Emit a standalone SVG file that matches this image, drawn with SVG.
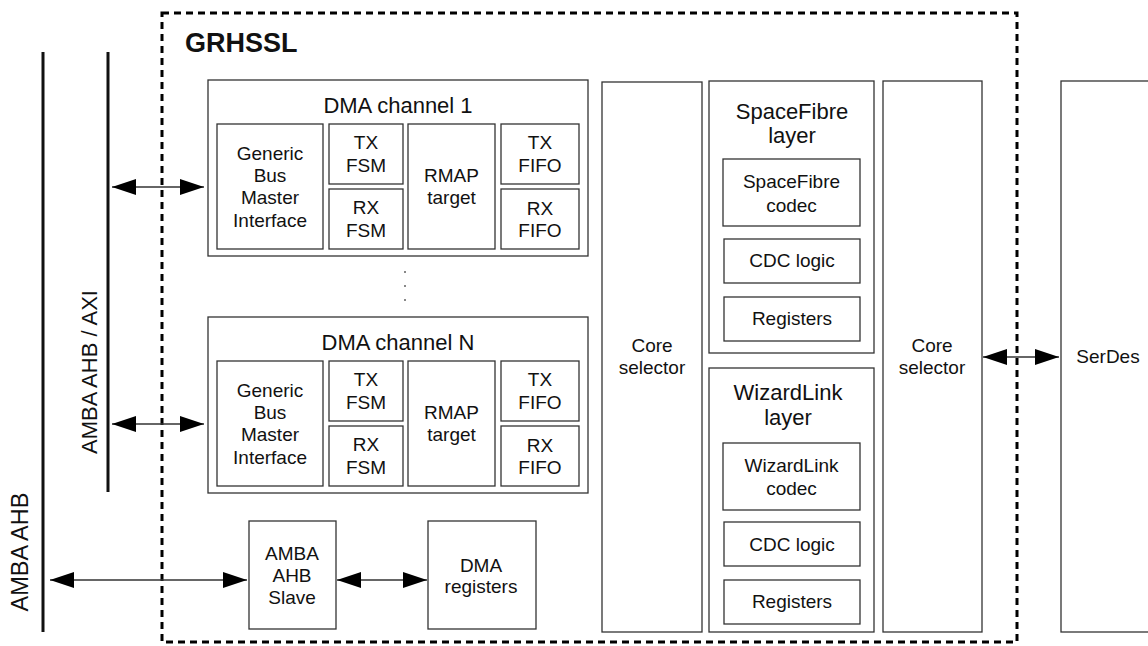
<svg xmlns="http://www.w3.org/2000/svg" width="1148" height="646" viewBox="0 0 1148 646">
<style>
text{font-family:"Liberation Sans",Arial,sans-serif;fill:#111;text-anchor:middle}
.t{font-size:19px}
.h{font-size:22px}
.box{fill:#fff;stroke:#333;stroke-width:1.3}
.bus{stroke:#111;stroke-width:3;fill:none}
.con{stroke:#333;stroke-width:1.4;fill:none;marker-start:url(#ah);marker-end:url(#ah)}
</style>
<defs>
<marker id="ah" viewBox="0 0 24 16" refX="24" refY="8" markerWidth="24" markerHeight="16" markerUnits="userSpaceOnUse" orient="auto-start-reverse">
<path d="M0,0 L24,8 L0,16 z" fill="#000"/>
</marker>
</defs>
<rect width="1148" height="646" fill="#fff"/>

<g id="buses">
<line class="bus" x1="43" y1="52" x2="43" y2="632"/>
<line class="bus" x1="108" y1="52" x2="108" y2="492"/>
<text class="h" style="font-size:23.5px" transform="translate(28,552) rotate(-90)">AMBA AHB</text>
<text class="h" transform="translate(97,372) rotate(-90)">AMBA AHB / AXI</text>
</g>

<g id="grhssl">
<rect x="162" y="13" width="855" height="629" fill="none" stroke="#000" stroke-width="3" stroke-dasharray="7 5"/>
<text x="185" y="52" style="font-size:27px;font-weight:bold;text-anchor:start">GRHSSL</text>
</g>

<g id="dma1">
<rect class="box" x="208" y="80" width="380" height="176"/>
<text class="h" x="398" y="113">DMA channel 1</text>
<rect class="box" x="217" y="124" width="106" height="125"/>
<text class="t" x="270" y="160">Generic</text><text class="t" x="270" y="182">Bus</text><text class="t" x="270" y="204">Master</text><text class="t" x="270" y="227">Interface</text>
<rect class="box" x="329" y="124" width="74" height="60"/>
<text class="t" x="366" y="149">TX</text><text class="t" x="366" y="172">FSM</text>
<rect class="box" x="329" y="189" width="74" height="60"/>
<text class="t" x="366" y="214">RX</text><text class="t" x="366" y="237">FSM</text>
<rect class="box" x="408" y="124" width="87" height="125"/>
<text class="t" x="451.5" y="182">RMAP</text><text class="t" x="451.5" y="204">target</text>
<rect class="box" x="501" y="124" width="78" height="60"/>
<text class="t" x="540" y="149">TX</text><text class="t" x="540" y="172">FIFO</text>
<rect class="box" x="501" y="189" width="78" height="60"/>
<text class="t" x="540" y="215">RX</text><text class="t" x="540" y="237">FIFO</text>
</g>

<g id="dots" fill="#888">
<rect x="404" y="271" width="2" height="2"/>
<rect x="404" y="285" width="2" height="2"/>
<rect x="404" y="299" width="2" height="2"/>
</g>

<g id="dmaN">
<rect class="box" x="208" y="317" width="380" height="176"/>
<text class="h" x="398" y="350">DMA channel N</text>
<rect class="box" x="217" y="361" width="106" height="125"/>
<text class="t" x="270" y="397">Generic</text><text class="t" x="270" y="419">Bus</text><text class="t" x="270" y="441">Master</text><text class="t" x="270" y="464">Interface</text>
<rect class="box" x="329" y="361" width="74" height="60"/>
<text class="t" x="366" y="386">TX</text><text class="t" x="366" y="409">FSM</text>
<rect class="box" x="329" y="426" width="74" height="60"/>
<text class="t" x="366" y="451">RX</text><text class="t" x="366" y="474">FSM</text>
<rect class="box" x="408" y="361" width="87" height="125"/>
<text class="t" x="451.5" y="419">RMAP</text><text class="t" x="451.5" y="441">target</text>
<rect class="box" x="501" y="361" width="78" height="60"/>
<text class="t" x="540" y="386">TX</text><text class="t" x="540" y="409">FIFO</text>
<rect class="box" x="501" y="426" width="78" height="60"/>
<text class="t" x="540" y="452">RX</text><text class="t" x="540" y="474">FIFO</text>
</g>

<g id="ahbslave">
<rect class="box" x="249" y="521" width="87" height="108"/>
<text class="t" x="292" y="560">AMBA</text><text class="t" x="292" y="582">AHB</text><text class="t" x="292" y="604">Slave</text>
</g>

<g id="dmaregs">
<rect class="box" x="428" y="521" width="108" height="108"/>
<text class="t" x="481" y="572">DMA</text><text class="t" x="481" y="593">registers</text>
</g>

<g id="coresel1">
<rect class="box" x="602" y="82" width="100" height="550"/>
<text class="t" x="652" y="352">Core</text><text class="t" x="652" y="374">selector</text>
</g>

<g id="spacefibre">
<rect class="box" x="709" y="81" width="165" height="272"/>
<text class="h" x="792" y="119">SpaceFibre</text><text class="h" x="792" y="143">layer</text>
<rect class="box" x="723" y="159" width="137" height="67"/>
<text class="t" x="791.5" y="188">SpaceFibre</text><text class="t" x="791.5" y="212">codec</text>
<rect class="box" x="724" y="239" width="136" height="44"/>
<text class="t" x="792" y="267">CDC logic</text>
<rect class="box" x="724" y="297" width="136" height="44"/>
<text class="t" x="792" y="325">Registers</text>
</g>

<g id="wizardlink">
<rect class="box" x="709" y="368" width="165" height="264"/>
<text class="h" x="788" y="400">WizardLink</text><text class="h" x="788" y="425">layer</text>
<rect class="box" x="723" y="443" width="137" height="67"/>
<text class="t" x="791.5" y="472">WizardLink</text><text class="t" x="791.5" y="495">codec</text>
<rect class="box" x="724" y="522" width="136" height="44"/>
<text class="t" x="792" y="551">CDC logic</text>
<rect class="box" x="724" y="580" width="136" height="44"/>
<text class="t" x="792" y="608">Registers</text>
</g>

<g id="coresel2">
<rect class="box" x="883" y="81" width="99" height="551"/>
<text class="t" x="932" y="352">Core</text><text class="t" x="932" y="374">selector</text>
</g>

<g id="serdes">
<rect class="box" x="1061" y="81" width="100" height="551"/>
<text class="t" x="1108" y="363">SerDes</text>
</g>

<g id="connectors">
<line class="con" x1="112" y1="187" x2="204" y2="187"/>
<line class="con" x1="112" y1="424" x2="204" y2="424"/>
<line class="con" x1="50" y1="580" x2="247" y2="580"/>
<line class="con" x1="337" y1="580" x2="427" y2="580"/>
<line class="con" x1="983" y1="357" x2="1059" y2="357"/>
</g>
</svg>
